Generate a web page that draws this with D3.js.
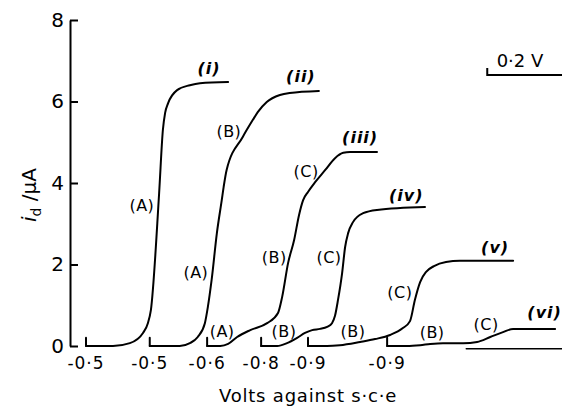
<!DOCTYPE html>
<html>
<head>
<meta charset="utf-8">
<script src="https://cdn.jsdelivr.net/npm/d3@7"></script>
<style>
  html, body { margin: 0; padding: 0; background: #fff; }
  svg { display: block; }
  text { font-family: "DejaVu Sans", sans-serif; fill: #000; }
</style>
</head>
<body>
<div id="chart"></div>
<script>
// each polarogram has its own starting potential, shifted along the recorder
var curveNames = ["(i)", "(ii)", "(iii)", "(iv)", "(v)", "(vi)"];
var startLabels = ["-0·5", "-0·5", "-0·6", "-0·8", "-0·9", "-0·9"];
var startV = [-0.5, -0.5, -0.6, -0.8, -0.9, -0.9];
var paperShift = [0, 0.17, 0.323, 0.467, 0.592, 0.803];   // volts along the chart

var yTicks = [0, 2, 4, 6, 8];

// potential (V vs s.c.e) and diffusion current (µA) per curve
var E_i = [-0.500, -0.572, -0.617, -0.652, -0.665, -0.673, -0.695, -0.705, -0.711, -0.719, -0.743, -0.777, -0.804, -0.879];
var I_i = [0, 0, 0.07, 0.32, 0.56, 0.88, 3.75, 5.30, 5.72, 5.96, 6.28, 6.40, 6.45, 6.48];

var E_ii = [-0.500, -0.580, -0.607, -0.628, -0.647, -0.655, -0.665, -0.679, -0.692, -0.697, -0.705, -0.748, -0.775, -0.788, -0.812, -0.847, -0.873, -0.951];
var I_ii = [0, 0, 0.07, 0.22, 0.56, 0.96, 1.62, 2.77, 3.58, 3.90, 4.32, 5.13, 5.55, 5.74, 5.99, 6.16, 6.21, 6.26];

var E_iii = [-0.600, -0.635, -0.656, -0.680, -0.715, -0.760, -0.789, -0.800, -0.816, -0.832, -0.845, -0.856, -0.869, -0.888, -0.915, -0.941, -0.963, -0.981, -1.053];
var I_iii = [0, 0, 0.05, 0.22, 0.39, 0.56, 0.81, 1.20, 2.04, 2.60, 3.21, 3.58, 3.78, 4.02, 4.32, 4.61, 4.74, 4.76, 4.76];

var E_iv = [-0.800, -0.843, -0.869, -0.896, -0.917, -0.936, -0.957, -0.976, -0.989, -0.997, -1.005, -1.016, -1.024, -1.032, -1.045, -1.072, -1.109, -1.237];
var I_iv = [0, 0, 0.07, 0.20, 0.32, 0.39, 0.42, 0.47, 0.56, 0.74, 1.13, 1.79, 2.43, 2.77, 3.04, 3.26, 3.34, 3.41];

var E_v = [-0.900, -0.951, -0.985, -1.039, -1.079, -1.119, -1.153, -1.172, -1.185, -1.199, -1.215, -1.236, -1.268, -1.305, -1.447];
var I_v = [0, 0, 0.02, 0.10, 0.17, 0.27, 0.44, 0.61, 1.13, 1.57, 1.82, 1.96, 2.06, 2.09, 2.09];

var E_vi = [-0.900, -0.953, -0.988, -1.015, -1.049, -1.103, -1.140, -1.175, -1.209, -1.236, -1.273, -1.348];
var I_vi = [0, 0, 0.02, 0.05, 0.07, 0.07, 0.10, 0.22, 0.34, 0.42, 0.42, 0.42];

// residual current line under curve (vi)
var E_res = [-1.111, -1.367];
var I_res = [-0.07, -0.07];

// wave labels: curve index, text, potential, current
var waveLabels = [
  [0, "(A)", -0.649, 3.46],
  [1, "(A)", -0.623, 1.82], [1, "(B)", -0.711, 5.28],
  [2, "(A)", -0.640, 0.37], [2, "(B)", -0.779, 2.18], [2, "(C)", -0.864, 4.29],
  [3, "(B)", -0.861, 0.37], [3, "(C)", -0.981, 2.18],
  [4, "(B)", -1.020, 0.37], [4, "(C)", -1.145, 1.33],
  [5, "(B)", -1.020, 0.34], [5, "(C)", -1.164, 0.54]
];
var nameE = [-0.828, -0.903, -1.008, -1.187, -1.399, -1.320];
var nameI = [6.82, 6.63, 5.13, 3.71, 2.43, 0.83];

var width = 562, height = 406;

var x = d3.scaleLinear().domain([0, 1]).range([86, 461]);
var y = d3.scaleLinear().domain([0, 8]).range([346, 20]);

// position on paper for curve k at potential E
function px(k, E) { return x(paperShift[k] + (startV[k] - E)); }

var curves = [[E_i, I_i], [E_ii, I_ii], [E_iii, I_iii], [E_iv, I_iv], [E_v, I_v], [E_vi, I_vi]];

var svg = d3.select("#chart").append("svg")
  .attr("width", width)
  .attr("height", height);

// y axis, ticks pointing inward
svg.append("g")
  .attr("transform", "translate(70,0)")
  .call(d3.axisLeft(y).tickValues(yTicks).tickSize(-8).tickSizeOuter(0).tickPadding(6).tickFormat(d3.format("d")))
  .call(g => g.select(".domain").attr("stroke", "#000").attr("stroke-width", 2))
  .call(g => g.selectAll(".tick line").attr("stroke", "#000").attr("stroke-width", 2))
  .call(g => g.selectAll(".tick text")
    .style("font-family", "DejaVu Sans, sans-serif")
    .attr("font-size", 20).attr("fill", "#000"));

var line = d3.line().curve(d3.curveMonotoneX);

var plot = svg.append("g")
  .attr("fill", "none")
  .attr("stroke", "#000")
  .attr("stroke-width", 2)
  .attr("stroke-linejoin", "round")
  .attr("stroke-linecap", "round");

curves.forEach(function(c, k) {
  var pts = c[0].map((E, j) => [px(k, E), y(c[1][j])]);
  plot.append("path").attr("d", line(pts));
  // start marker
  plot.append("line")
    .attr("x1", px(k, startV[k])).attr("x2", px(k, startV[k]))
    .attr("y1", y(0)).attr("y2", y(0.2));
});

plot.append("path")
  .attr("stroke-width", 1.5)
  .attr("d", d3.line()(E_res.map((E, j) => [px(5, E), y(I_res[j])])));

// start potentials under each curve
svg.append("g")
  .selectAll("text")
  .data(startLabels)
  .join("text")
    .attr("x", (d, k) => px(k, startV[k]))
    .attr("y", 369)
    .attr("text-anchor", "middle")
    .attr("font-size", 17)
    .attr("letter-spacing", 1)
    .text(d => d);

// wave letters
svg.append("g")
  .selectAll("text")
  .data(waveLabels)
  .join("text")
    .attr("x", d => px(d[0], d[2]))
    .attr("y", d => y(d[3]) + 6)
    .attr("text-anchor", "middle")
    .attr("font-size", 16)
    .attr("letter-spacing", 0.5)
    .text(d => d[1]);

// curve numbers
svg.append("g")
  .selectAll("text")
  .data(curveNames)
  .join("text")
    .attr("x", (d, k) => px(k, nameE[k]))
    .attr("y", (d, k) => y(nameI[k]) + 6)
    .attr("text-anchor", "middle")
    .attr("font-size", 16)
    .attr("font-style", "italic")
    .attr("font-weight", "bold")
    .attr("letter-spacing", 1)
    .text(d => d);

// 0.2 V scale bar
var barX0 = x(1.07), barY = 75;
svg.append("path")
  .attr("fill", "none").attr("stroke", "#000").attr("stroke-width", 2)
  .attr("d", `M${barX0},${barY - 7}V${barY}H${barX0 + x(0.2) - x(0)}`);
svg.append("text")
  .attr("x", 520).attr("y", 67)
  .attr("text-anchor", "middle")
  .attr("font-size", 18)
  .text("0·2 V");

// axis titles
svg.append("text")
  .attr("x", 308).attr("y", 402)
  .attr("text-anchor", "middle")
  .attr("font-size", 18)
  .attr("letter-spacing", 0.8)
  .text("Volts against s·c·e");

var yt = svg.append("text")
  .attr("transform", "translate(36,195) rotate(-90)")
  .attr("text-anchor", "middle")
  .attr("font-size", 20);
yt.append("tspan").attr("font-style", "italic").text("i");
yt.append("tspan").attr("font-size", 14).attr("dy", 5).text("d");
yt.append("tspan").attr("dy", -5).text(" /µA");
</script>
</body>
</html>
